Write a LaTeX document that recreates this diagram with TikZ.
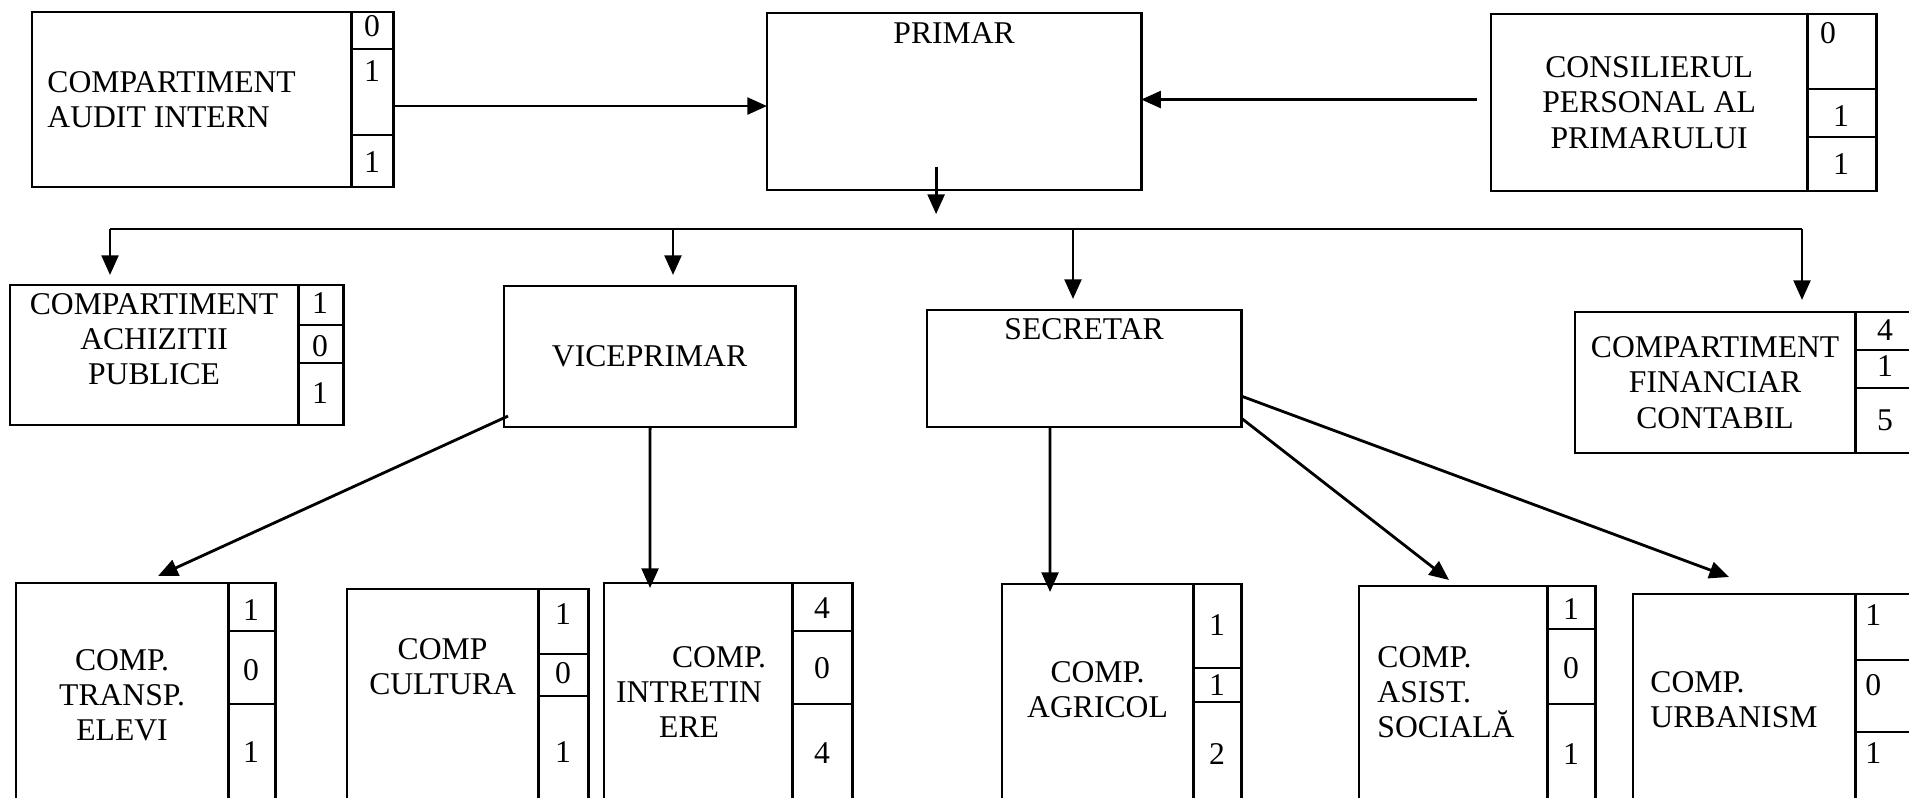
\documentclass[tikz,border=0pt]{standalone}
\usepackage{fontspec}
\setmainfont{Liberation Serif}
\usetikzlibrary{arrows.meta}
\usetikzlibrary{positioning}

\tikzset{
  box/.style={draw, inner sep=0pt, outer sep=0pt, anchor=north west},
  arr/.style={-{Triangle[length=5.6pt,width=4.8pt]}},
  txt/.style={inner sep=0pt, align=center}
}

\begin{document}
\begin{tikzpicture}[x=0.01cm, y=-0.01cm, line width=0.8pt,
    font=\fontsize{9pt}{10pt}\selectfont, every node/.style={inner sep=0pt}]

  \useasboundingbox (0,0) rectangle (1909,798);
  \clip (0,0) rectangle (1909,798);

  % top row
  \node[box, minimum width=3.19cm, minimum height=1.75cm] (audit) at (32,12) {};
  \node[box, minimum width=0.42cm, minimum height=1.75cm, right=0pt of audit] (auditnr) {};
  \draw (auditnr.west |- 0,49) -- (auditnr.east |- 0,49);
  \draw (auditnr.west |- 0,135) -- (auditnr.east |- 0,135);
  \node[txt, anchor=west, align=left] (audittxt) at ([xshift=0.14cm]audit.west)
  {COMPARTIMENT\\AUDIT INTERN};
  \node (auditv1) at (372,26) {0};
  \node (auditv2) at (372,71) {1};
  \node (auditv3) at (372,162) {1};

  \node[box, minimum width=3.74cm, minimum height=1.77cm] (primar) at (767,13) {};
  \node[txt] (primartxt) at ([yshift=-0.2cm]primar.north) {PRIMAR};

  \node[box, minimum width=3.16cm, minimum height=1.77cm] (consilier) at (1491,14) {};
  \node[box, minimum width=0.69cm, minimum height=1.77cm, right=0pt of consilier] (consiliernr) {};
  \draw (consiliernr.west |- 0,89) -- (consiliernr.east |- 0,89);
  \draw (consiliernr.west |- 0,137) -- (consiliernr.east |- 0,137);
  \node[txt] (consiliertxt) at (consilier.center) {CONSILIERUL\\PERSONAL AL\\PRIMARULUI};
  \node (consilierv1) at (1828,33) {0};
  \node (consilierv2) at (1841,116) {1};
  \node (consilierv3) at (1841,164) {1};

  \coordinate (auditout) at ([yshift=-0.065cm]auditnr.east);
  \draw[arr] (auditout) -- (auditout -| primar.west);
  \coordinate (consout) at ([xshift=-0.14cm,yshift=0.03cm]consilier.west);
  \draw[arr] (consout) -- (consout -| primar.east);
  \draw[arr] ([xshift=-0.18cm,yshift=0.23cm]primar.south) -- ([xshift=-0.18cm,yshift=-0.24cm]primar.south);

  % middle row
  \node[box, minimum width=2.88cm, minimum height=1.40cm] (achizitii) at (10,285) {};
  \node[box, minimum width=0.45cm, minimum height=1.40cm, right=0pt of achizitii] (achizitiinr) {};
  \draw (achizitiinr.west |- 0,325) -- (achizitiinr.east |- 0,325);
  \draw (achizitiinr.west |- 0,363) -- (achizitiinr.east |- 0,363);
  \node[txt] (achizitiitxt) at ([yshift=0.16cm]achizitii.center) {COMPARTIMENT\\ACHIZITII\\PUBLICE};
  \node (achizitiiv1) at (320,303) {1};
  \node (achizitiiv2) at (320,346) {0};
  \node (achizitiiv3) at (320,393) {1};

  \node[box, minimum width=2.91cm, minimum height=1.41cm] (vice) at (504,286) {};
  \node[txt] (vicetxt) at (vice.center) {VICEPRIMAR};

  \node[box, minimum width=3.14cm, minimum height=1.17cm] (secretar) at (927,310) {};
  \node[txt] (secretartxt) at ([yshift=-0.19cm]secretar.north) {SECRETAR};

  \node[box, minimum width=2.80cm, minimum height=1.41cm] (financiar) at (1575,312) {};
  \node[box, minimum width=0.80cm, minimum height=1.41cm, right=0pt of financiar] (financiarnr) {};
  \draw (financiarnr.west |- 0,350) -- (financiarnr.east |- 0,350);
  \draw (financiarnr.west |- 0,388) -- (financiarnr.east |- 0,388);
  \node[txt] (financiartxt) at (financiar.center) {COMPARTIMENT\\FINANCIAR\\CONTABIL};
  \node (financiarv1) at (1885,330) {4};
  \node (financiarv2) at (1885,366) {1};
  \node (financiarv3) at (1885,420) {5};

  % bus from the mayor
  \coordinate (busa) at (110,229);
  \coordinate (busb) at (673,229);
  \coordinate (busc) at (1073,229);
  \coordinate (busd) at (1802,229);
  \draw (busa) -- (busd);
  \draw[arr, shorten >=0.1cm] (busa) -- (busa |- achizitii.north);
  \draw[arr, shorten >=0.11cm] (busb) -- (busb |- vice.north);
  \draw[arr, shorten >=0.11cm] (busc) -- (busc |- secretar.north);
  \draw[arr, shorten >=0.12cm] (busd) -- (busd |- financiar.north);

  % bottom row
  \node[box, minimum width=2.12cm, minimum height=2.5cm] (transp) at (16,583) {};
  \node[box, minimum width=0.47cm, minimum height=2.5cm, right=0pt of transp] (transpnr) {};
  \draw (transpnr.west |- 0,631) -- (transpnr.east |- 0,631);
  \draw (transpnr.west |- 0,704) -- (transpnr.east |- 0,704);
  \node[txt] (transptxt) at ([yshift=-1.12cm]transp.north) {COMP.\\TRANSP.\\ELEVI};
  \node (transpv1) at (251,610) {1};
  \node (transpv2) at (251,670) {0};
  \node (transpv3) at (251,752) {1};

  \node[box, minimum width=1.91cm, minimum height=2.5cm] (cultura) at (347,589) {};
  \node[box, minimum width=0.50cm, minimum height=2.5cm, right=0pt of cultura] (culturanr) {};
  \draw (culturanr.west |- 0,654) -- (culturanr.east |- 0,654);
  \draw (culturanr.west |- 0,696) -- (culturanr.east |- 0,696);
  \node[txt] (culturatxt) at ([yshift=-0.78cm]cultura.north) {COMP\\CULTURA};
  \node (culturav1) at (563,614) {1};
  \node (culturav2) at (563,673) {0};
  \node (culturav3) at (563,752) {1};

  \node[box, minimum width=1.88cm, minimum height=2.5cm] (intretinere) at (604,583) {};
  \node[box, minimum width=0.60cm, minimum height=2.5cm, right=0pt of intretinere] (intretinerenr) {};
  \draw (intretinerenr.west |- 0,631) -- (intretinerenr.east |- 0,631);
  \draw (intretinerenr.west |- 0,704) -- (intretinerenr.east |- 0,704);
  \node[txt] (intretineretxt) at ([xshift=-0.09cm,yshift=-1.09cm]intretinere.north)
  {\hspace*{0.6cm}COMP.\\INTRETIN\\ERE};
  \node (intretinerev1) at (822,608) {4};
  \node (intretinerev2) at (822,668) {0};
  \node (intretinerev3) at (822,753) {4};

  \node[box, minimum width=1.91cm, minimum height=2.5cm] (agricol) at (1002,584) {};
  \node[box, minimum width=0.48cm, minimum height=2.5cm, right=0pt of agricol] (agricolnr) {};
  \draw (agricolnr.west |- 0,668) -- (agricolnr.east |- 0,668);
  \draw (agricolnr.west |- 0,702) -- (agricolnr.east |- 0,702);
  \node[txt] (agricoltxt) at ([yshift=-1.06cm]agricol.north) {COMP.\\AGRICOL};
  \node (agricolv1) at (1217,625) {1};
  \node (agricolv2) at (1217,685) {1};
  \node (agricolv3) at (1217,754) {2};

  \node[box, minimum width=1.88cm, minimum height=2.5cm] (asist) at (1359,586) {};
  \node[box, minimum width=0.48cm, minimum height=2.5cm, right=0pt of asist] (asistnr) {};
  \draw (asistnr.west |- 0,629) -- (asistnr.east |- 0,629);
  \draw (asistnr.west |- 0,704) -- (asistnr.east |- 0,704);
  \node[txt, anchor=west, align=left] (asisttxt) at ([xshift=0.17cm,yshift=-1.06cm]asist.north west)
  {COMP.\\ASIST.\\SOCIALĂ};
  \node (asistv1) at (1571,609) {1};
  \node (asistv2) at (1571,668) {0};
  \node (asistv3) at (1571,754) {1};

  \node[box, minimum width=2.22cm, minimum height=2.5cm] (urbanism) at (1633,594) {};
  \node[box, minimum width=0.90cm, minimum height=2.5cm, right=0pt of urbanism] (urbanismnr) {};
  \draw (urbanismnr.west |- 0,660) -- (urbanismnr.east |- 0,660);
  \draw (urbanismnr.west |- 0,732) -- (urbanismnr.east |- 0,732);
  \node[txt, anchor=west, align=left] (urbanismtxt) at ([xshift=0.16cm,yshift=-1.06cm]urbanism.north west)
  {COMP.\\URBANISM};
  \node[anchor=west] (urbanismv1) at (1864,615) {1};
  \node[anchor=west] (urbanismv2) at (1864,685) {0};
  \node[anchor=west] (urbanismv3) at (1864,753) {1};

  % from the deputy mayor and the secretary
  \draw[arr] ([xshift=0.04cm,yshift=0.11cm]vice.south west) -- ([xshift=1.42cm,yshift=0.07cm]transp.north west);
  \draw[arr] ([xshift=1.46cm]vice.south west) -- ([xshift=0.46cm,yshift=-0.05cm]intretinere.north west);
  \draw[arr] ([xshift=1.23cm]secretar.south west) -- ([xshift=0.48cm,yshift=-0.08cm]agricol.north west);
  \draw[arr] ([yshift=0.09cm]secretar.south east) -- ([xshift=0.90cm,yshift=0.06cm]asist.north west);
  \draw[arr] ([yshift=0.31cm]secretar.south east) -- ([xshift=0.96cm,yshift=0.17cm]urbanism.north west);

\end{tikzpicture}
\end{document}
